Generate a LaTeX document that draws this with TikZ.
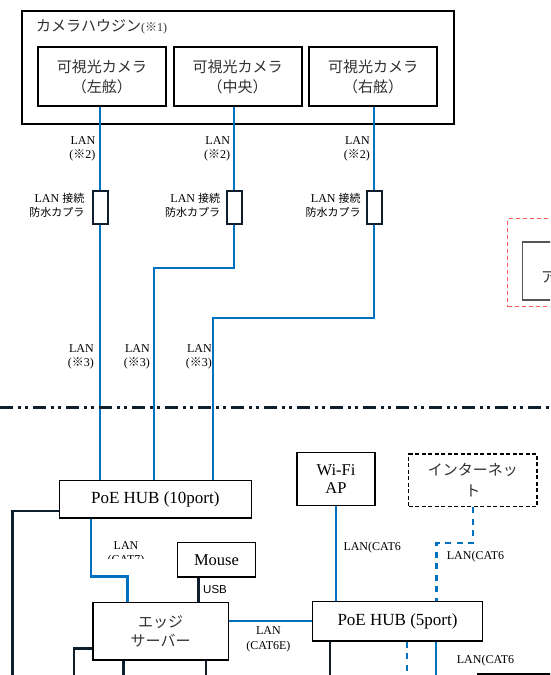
\documentclass[tikz,border=0pt]{standalone}
\usepackage{fontspec}
\setmainfont{Liberation Serif}
\newfontfamily\jpf{Noto Sans CJK JP}
\newfontfamily\sanf{Liberation Sans}
\usetikzlibrary{calc}
\definecolor{lanblue}{HTML}{0070C0}
\definecolor{navy}{HTML}{0F1E2D}
\definecolor{txt}{HTML}{303030}
\definecolor{redd}{HTML}{FF5B5B}
\definecolor{grayb}{HTML}{555555}
\newcommand\setfs[2]{\fontsize{#1}{#2}\selectfont}
\newcommand\komeji{{\jpf ※}}
\tikzset{
  box/.style={draw=black, line width=1.5pt, fill=white, inner sep=0pt, text=black},
  cam/.style={box, line width=1.8pt, minimum width=128pt, minimum height=59pt, align=center, text=txt, font=\setfs{15}{20}\jpf},
  coup/.style={draw=navy, line width=2pt, fill=white, minimum width=15pt, minimum height=33.5pt, inner sep=0pt},
  bl/.style={draw=lanblue, line width=2.2pt},
  bld/.style={bl, dash pattern=on 6pt off 5.5pt},
  blk/.style={draw=navy, line width=2.5pt},
  lbl/.style={inner sep=0pt, font=\setfs{12}{14}, text=black},
}
\begin{document}
\begin{tikzpicture}[x=1pt,y=-1pt]
\useasboundingbox (0,0) rectangle (550,675);
\clip (0,0) rectangle (550,675);

% camera housing
\node[draw=black, line width=2pt, minimum width=431.5pt, minimum height=113pt, anchor=north west, inner sep=0pt] (housing) at (21,10) {};
\node[anchor=west, inner sep=0pt, text=txt, font=\setfs{15}{18}\jpf] (hlabel) at (36,27) {カメラハウジン{\setfs{12}{13}\rmfamily(\komeji 1)}};

\node[cam] (cam1) at (101.8,76.5) {可視光カメラ\\（左舷）};
\node[cam] (cam2) at (237.6,76.5) {可視光カメラ\\（中央）};
\node[cam] (cam3) at (373.2,76.5) {可視光カメラ\\（右舷）};

% couplers
\node[coup] (cp1) at (100,207.5) {};
\node[coup] (cp2) at (234.3,207.5) {};
\node[coup] (cp3) at (374.3,207.5) {};

% PoE HUB 10
\node[box, minimum width=192pt, minimum height=37.3pt, font=\setfs{17}{20}] (poe10) at (155.3,499.3) {PoE HUB (10port)};

% camera -> coupler
\draw[bl] (cam1.south -| cp1.north) -- (cp1.north);
\draw[bl] (cam2.south -| cp2.north) -- (cp2.north);
\draw[bl] (cam3.south -| cp3.north) -- (cp3.north);

% coupler -> hub
\draw[bl] (cp1.south) -- (cp1.south |- poe10.north);
\draw[bl] (cp2.south) -- ++(0,42.4) -| ([xshift=95.7pt]poe10.north west);
\draw[bl] (cp3.south) -- ++(0,93) -| ([xshift=154.7pt]poe10.north west);

% labels LAN (※2)
\node[lbl, anchor=east, align=right] (l2a) at (95.5,148.7) {LAN\\(\komeji 2)};
\node[lbl, anchor=east, align=right] (l2b) at (230.3,148.7) {LAN\\(\komeji 2)};
\node[lbl, anchor=east, align=right] (l2c) at (370,148.7) {LAN\\(\komeji 2)};

% coupler labels
\node[lbl, anchor=east, align=right, yshift=2.6pt] (cl1) at ([xshift=-7pt]cp1.west) {LAN {\jpf\setfs{11}{14}接続}\\{\jpf\setfs{11}{14}防水カプラ}};
\node[lbl, anchor=east, align=right, yshift=2.6pt] (cl2) at ([xshift=-5.5pt]cp2.west) {LAN {\jpf\setfs{11}{14}接続}\\{\jpf\setfs{11}{14}防水カプラ}};
\node[lbl, anchor=east, align=right, yshift=2.6pt] (cl3) at ([xshift=-5pt]cp3.west) {LAN {\jpf\setfs{11}{14}接続}\\{\jpf\setfs{11}{14}防水カプラ}};

% labels LAN (※3)
\node[lbl, anchor=east, align=right] (l3a) at (94,357) {LAN\\(\komeji 3)};
\node[lbl, anchor=east, align=right] (l3b) at (150,357) {LAN\\(\komeji 3)};
\node[lbl, anchor=east, align=right] (l3c) at (212,357) {LAN\\(\komeji 3)};

% dash-dot boundary
\coordinate (dl) at (0,407);
\coordinate (dr) at (552,407);
\draw[draw=navy, line width=3pt, dash pattern=on 13pt off 5pt on 3pt off 4pt on 3pt off 5pt] (dl) -- (dr);

% red dashed region at right
\node[draw=redd, line width=1pt, dash pattern=on 4pt off 3pt, minimum width=60pt, minimum height=88pt, anchor=north west, inner sep=0pt] (reddash) at (507,218) {};
\node[draw=grayb, line width=1.8pt, fill=white, anchor=north west, minimum width=50pt, minimum height=58pt, inner sep=0pt] (grayb) at (521.6,241) {};
\node[anchor=west, inner sep=0pt, font=\setfs{15}{18}\jpf, text=txt] (ta) at (541,277) {ア};

% lower boxes
\node[box, minimum width=135.3pt, minimum height=57.3pt, align=center, text=txt, font=\setfs{15}{19.3}\jpf] (edge) at (160.65,631.35) {エッジ\\サーバー};
\node[box, minimum width=77.6pt, minimum height=34.3pt, font=\setfs{16.5}{20}] (mouse) at (216.5,559.85) {Mouse};
\node[box, minimum width=78pt, minimum height=53.4pt, align=center, font=\setfs{16.5}{18.3}] (wifi) at (336,479) {Wi-Fi\\AP};
\node[box, line width=1.3pt, dash pattern=on 4pt off 2.5pt, minimum width=128.3pt, minimum height=52.7pt, align=center, text=txt, font=\setfs{15}{21}\jpf] (inet) at (472.85,480.35) {インターネッ\\ト};
\node[box, minimum width=169.6pt, minimum height=39.3pt, font=\setfs{17}{20}] (poe5) at (397.5,621.35) {PoE HUB (5port)};

% black from PoE10 left
\coordinate (b1) at (12.7,690);
\draw[blk] ([yshift=-11.7pt]poe10.west) -| (b1);

% PoE10 -> edge server (CAT7)
\draw[bl] ([xshift=32.4pt]poe10.south west) -- ++(0,57.7) -| ([xshift=35.3pt]edge.north west);
\begin{scope}
\clip (100,530) rectangle (160,558.5);
\node[lbl, align=center, font=\setfs{12}{14}] (l7) at (126,553.5) {LAN\\(CAT7)};
\end{scope}

% USB
\coordinate (usbtop) at ([xshift=21.6pt]mouse.south west);
\draw[blk] (usbtop) -- (usbtop |- edge.north);
\node[anchor=west, inner sep=0pt, font=\sanf\setfs{11.5}{13}] (usb) at (203,590) {USB};

% edge server outgoing black lines
\coordinate (b2) at (74,690);
\draw[blk] ([yshift=-17pt]edge.west) -| (b2);
\draw[blk] ([xshift=31pt]edge.south west) -- ++(0,40);
\draw[blk] ([xshift=113.7pt]edge.south west) -- ++(0,40);

% edge -> PoE5
\draw[bl] (poe5.west) -- (poe5.west -| edge.east);
\node[lbl, align=center, font=\setfs{12}{14.7}] (l6e) at (268.4,639.5) {LAN\\(CAT6E)};

% Wi-Fi -> PoE5
\draw[bl] (wifi.south) -- (wifi.south |- poe5.north);
\node[lbl, anchor=west] (lw) at (343.3,547.3) {LAN(CAT6};

% Internet -> PoE5
\draw[bld] (inet.south) -- ++(0,36) -| ([xshift=124.6pt]poe5.north west);
\node[lbl, anchor=west] (li) at (446.7,556.7) {LAN(CAT6};

% below PoE5
\draw[blk, line width=2pt] ([xshift=18pt]poe5.south west) -- ++(0,40);
\draw[bld] ([xshift=95pt]poe5.south west) -- ++(0,40);
\draw[bl] ([xshift=124pt]poe5.south west) -- ++(0,40);
\node[lbl, anchor=west] (lb) at (456.7,660.7) {LAN(CAT6};
\coordinate (h1) at (477.3,674);
\coordinate (h2) at (560,674);
\draw[draw=black, line width=1.5pt] (h1) -- (h2);
\end{tikzpicture}
\end{document}
